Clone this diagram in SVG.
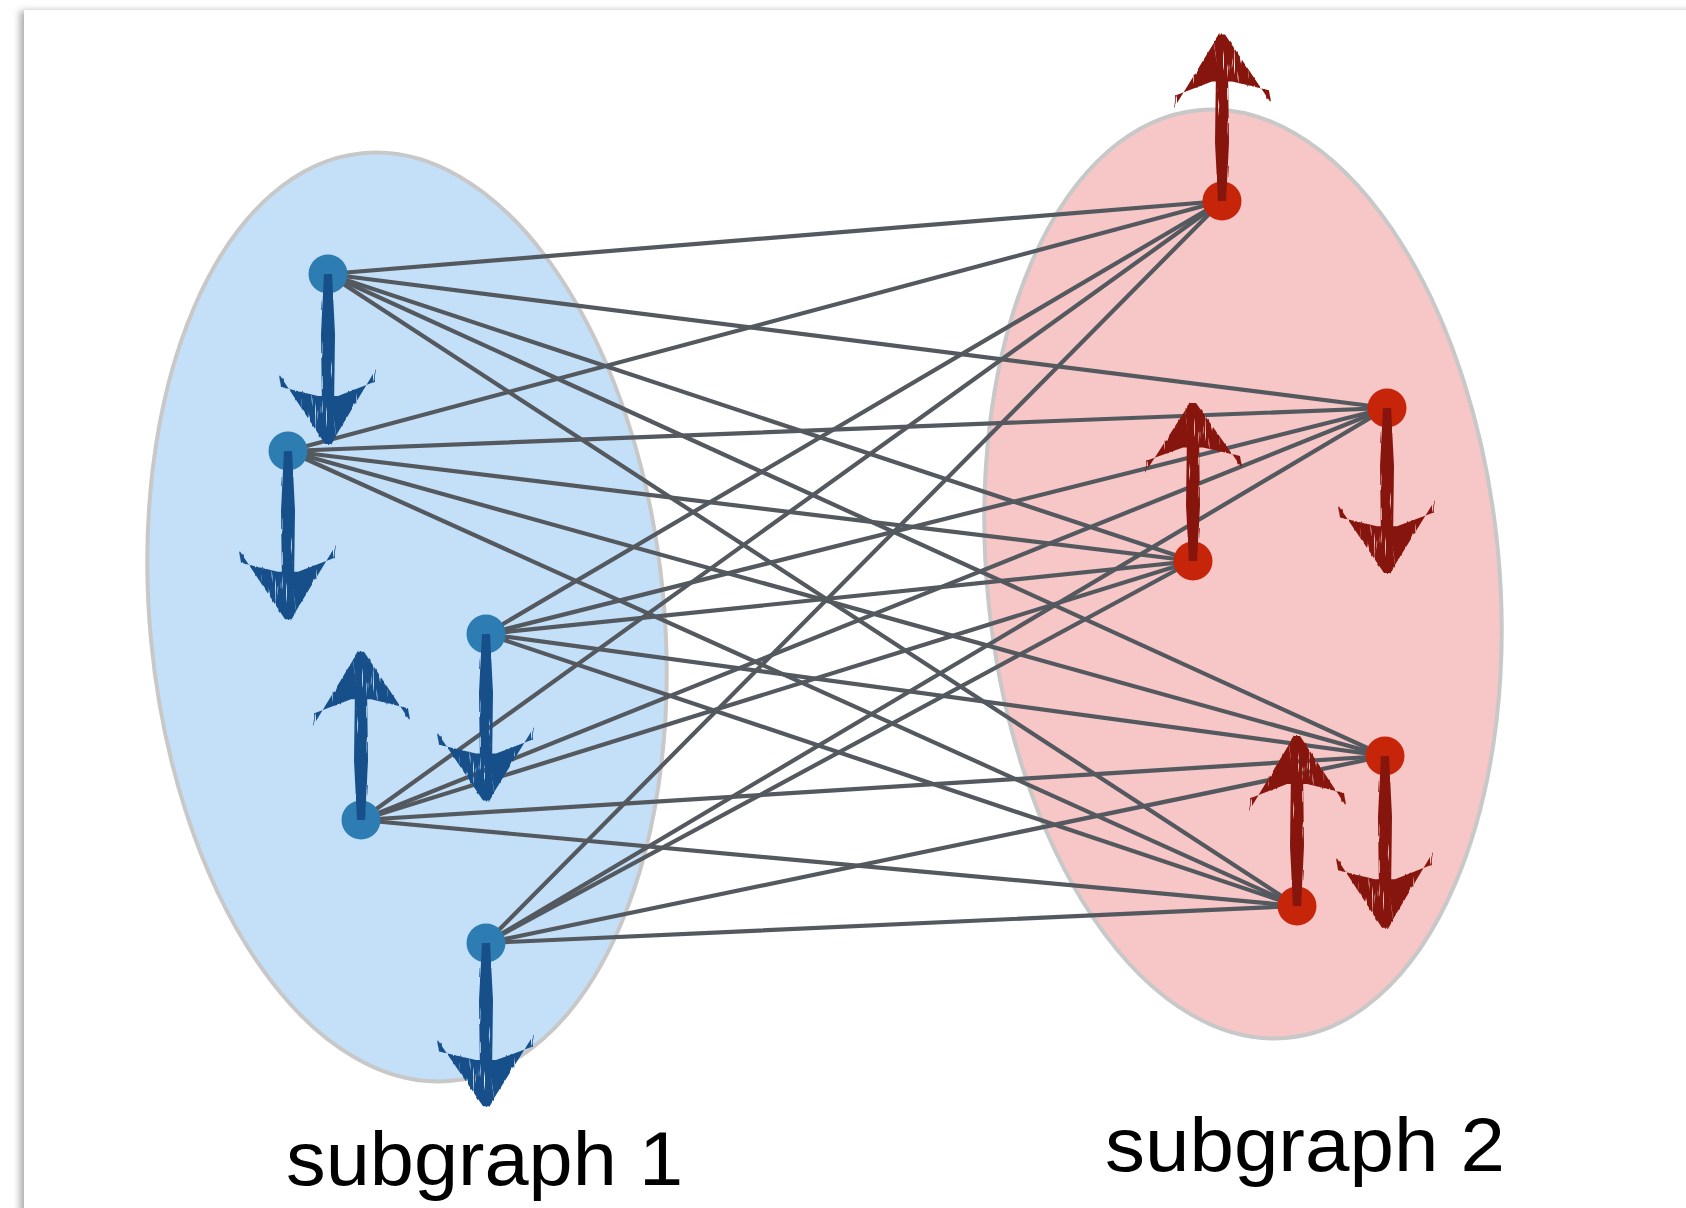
<svg xmlns="http://www.w3.org/2000/svg" xmlns:xlink="http://www.w3.org/1999/xlink" width="1686" height="1208" viewBox="0 0 1686 1208">
<style>
.edge{stroke:#54595f;stroke-width:4.2;stroke-linecap:round;fill:none}
.sg1{fill:#c4e0f8;stroke:#c8c8c9;stroke-width:4}
.sg2{fill:#f7c6c6;stroke:#c8c8c9;stroke-width:4}
.nb{fill:#2d7db2}
.nr{fill:#c7250a}
.ab{fill:#17508a}
.ar{fill:#86150a}
.lbl{font-family:"Liberation Sans",Arial,sans-serif;font-size:76px;fill:#000}
</style>
<defs>
<filter id="shadow" x="-3%" y="-3%" width="106%" height="106%">
<feDropShadow dx="-4" dy="1" stdDeviation="3.5" flood-color="#000" flood-opacity="0.33"/>
</filter>
<filter id="brush" x="-40%" y="-10%" width="180%" height="120%">
<feTurbulence type="fractalNoise" baseFrequency="0.3 0.025" numOctaves="2" seed="7" result="noise"/>
<feDisplacementMap in="SourceGraphic" in2="noise" scale="3" xChannelSelector="R" yChannelSelector="G" result="disp"/>
<feColorMatrix in="noise" type="matrix" values="0 0 0 0 0  0 0 0 0 0  0 0 0 0 0  12 0 0 0 -3.0" result="mask"/>
<feComposite in="disp" in2="mask" operator="in"/>
</filter>
<g id="arrowDown">
<path d="M-4,0 L4,0 L7,60 L6,135 L-6,135 L-7,60 Z"/>
<path d="M-49,100 L-3,170 L3,170 L48,95 L46,108 L10,122 L-10,122 L-47,113 Z"/>
</g>
</defs>

<rect x="0" y="0" width="1686" height="1208" fill="#ffffff"/>
<rect x="24" y="10" width="1700" height="1250" fill="#ffffff" filter="url(#shadow)"/>

<g id="subgraph1">
<ellipse class="sg1" cx="407" cy="617" rx="257" ry="466" transform="rotate(-5.5 407 617)"/>
<text class="lbl" x="286" y="1185" textLength="397" lengthAdjust="spacingAndGlyphs">subgraph 1</text>
</g>
<g id="subgraph2">
<ellipse class="sg2" cx="1243" cy="574" rx="256" ry="466" transform="rotate(-5.5 1243 574)"/>
<text class="lbl" x="1105" y="1171" textLength="400" lengthAdjust="spacingAndGlyphs">subgraph 2</text>
</g>

<g id="connectors">
<line class="edge" x1="328" y1="274" x2="1222" y2="201"/>
<line class="edge" x1="328" y1="274" x2="1387" y2="408"/>
<line class="edge" x1="328" y1="274" x2="1193" y2="561"/>
<line class="edge" x1="328" y1="274" x2="1385" y2="756"/>
<line class="edge" x1="328" y1="274" x2="1297" y2="906"/>
<line class="edge" x1="288" y1="451" x2="1222" y2="201"/>
<line class="edge" x1="288" y1="451" x2="1387" y2="408"/>
<line class="edge" x1="288" y1="451" x2="1193" y2="561"/>
<line class="edge" x1="288" y1="451" x2="1385" y2="756"/>
<line class="edge" x1="288" y1="451" x2="1297" y2="906"/>
<line class="edge" x1="486" y1="634" x2="1222" y2="201"/>
<line class="edge" x1="486" y1="634" x2="1387" y2="408"/>
<line class="edge" x1="486" y1="634" x2="1193" y2="561"/>
<line class="edge" x1="486" y1="634" x2="1385" y2="756"/>
<line class="edge" x1="486" y1="634" x2="1297" y2="906"/>
<line class="edge" x1="361" y1="820" x2="1222" y2="201"/>
<line class="edge" x1="361" y1="820" x2="1387" y2="408"/>
<line class="edge" x1="361" y1="820" x2="1193" y2="561"/>
<line class="edge" x1="361" y1="820" x2="1385" y2="756"/>
<line class="edge" x1="361" y1="820" x2="1297" y2="906"/>
<line class="edge" x1="486" y1="943" x2="1222" y2="201"/>
<line class="edge" x1="486" y1="943" x2="1387" y2="408"/>
<line class="edge" x1="486" y1="943" x2="1193" y2="561"/>
<line class="edge" x1="486" y1="943" x2="1385" y2="756"/>
<line class="edge" x1="486" y1="943" x2="1297" y2="906"/>
</g>

<g id="b1"><circle class="nb" cx="328" cy="274" r="19.5"/><use href="#arrowDown" class="ab" filter="url(#brush)" transform="translate(328 274) scale(1 1.0)"/></g>
<g id="b2"><circle class="nb" cx="288" cy="451" r="19.5"/><use href="#arrowDown" class="ab" filter="url(#brush)" transform="translate(288 451) scale(1 0.99)"/></g>
<g id="b3"><circle class="nb" cx="486" cy="634" r="19.5"/><use href="#arrowDown" class="ab" filter="url(#brush)" transform="translate(486 634) scale(1 0.98)"/></g>
<g id="b4"><circle class="nb" cx="361" cy="820" r="19.5"/><use href="#arrowDown" class="ab" filter="url(#brush)" transform="translate(361 820) rotate(180) scale(1 0.99)"/></g>
<g id="b5"><circle class="nb" cx="486" cy="943" r="19.5"/><use href="#arrowDown" class="ab" filter="url(#brush)" transform="translate(486 943) scale(1 0.96)"/></g>

<g id="r1"><circle class="nr" cx="1222" cy="201" r="19.5"/><use href="#arrowDown" class="ar" filter="url(#brush)" transform="translate(1222 201) rotate(180) scale(1 0.98)"/></g>
<g id="r2"><circle class="nr" cx="1387" cy="408" r="19.5"/><use href="#arrowDown" class="ar" filter="url(#brush)" transform="translate(1387 408) scale(1 0.97)"/></g>
<g id="r3"><circle class="nr" cx="1193" cy="561" r="19.5"/><use href="#arrowDown" class="ar" filter="url(#brush)" transform="translate(1193 561) rotate(180) scale(1 0.93)"/></g>
<g id="r4"><circle class="nr" cx="1385" cy="756" r="19.5"/><use href="#arrowDown" class="ar" filter="url(#brush)" transform="translate(1385 756) scale(1 1.01)"/></g>
<g id="r5"><circle class="nr" cx="1297" cy="906" r="19.5"/><use href="#arrowDown" class="ar" filter="url(#brush)" transform="translate(1297 906) rotate(180) scale(1 1.0)"/></g>
</svg>
